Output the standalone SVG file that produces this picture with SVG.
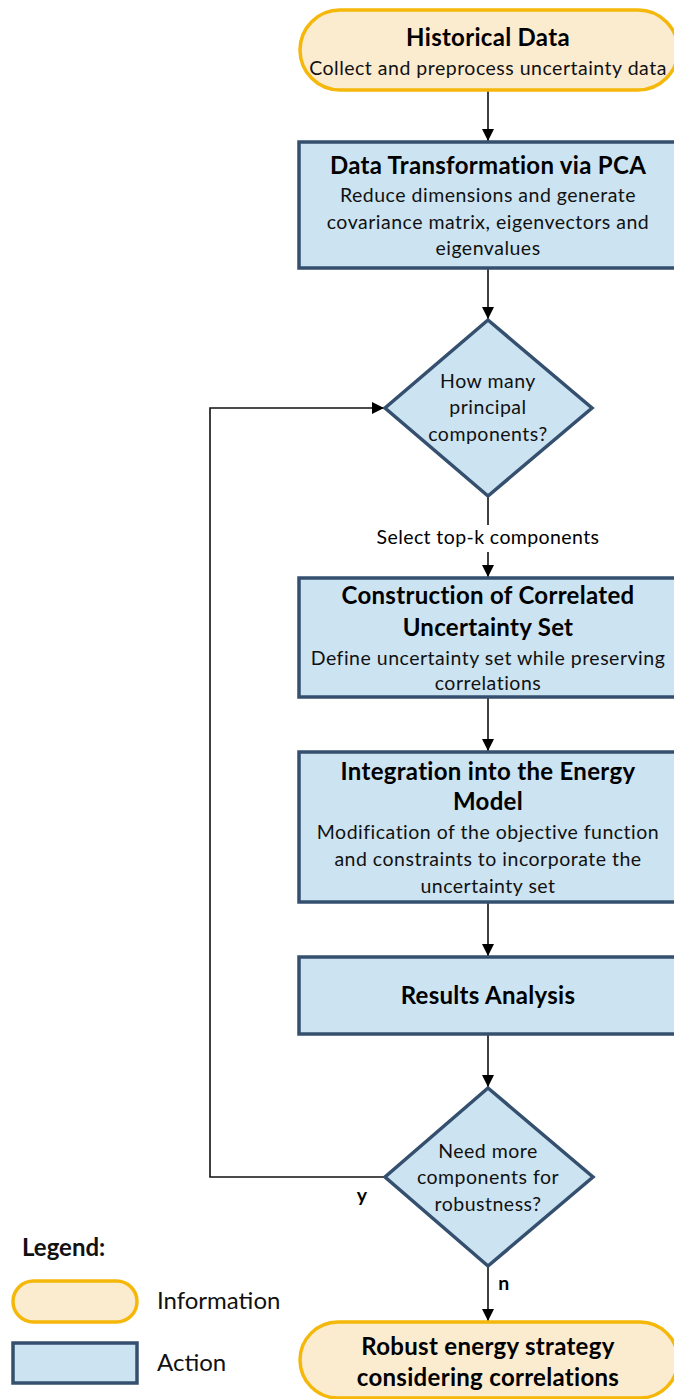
<svg xmlns="http://www.w3.org/2000/svg" width="674" height="1399" viewBox="0 0 674 1399">
<defs>
<marker id="arr" markerWidth="12" markerHeight="12" refX="12" refY="6" orient="auto" markerUnits="userSpaceOnUse">
<path d="M0,0 L12,6 L0,12 Z" fill="#000"/>
</marker>
<style>
.info{fill:#FBEBCF;stroke:#F5B80A;stroke-width:3.5}
.act{fill:#CCE3F1;stroke:#35506F;stroke-width:3.5}
.t{font-family:Lato,"Liberation Sans",sans-serif;font-weight:bold;font-size:24px;letter-spacing:0.3px;fill:#000;text-anchor:middle}
.s{font-family:Lato,"Liberation Sans",sans-serif;font-size:19.5px;letter-spacing:0.5px;fill:#111;text-anchor:middle}
.c{fill:none;stroke:#111;stroke-width:1.6}
.lb{font-family:Lato,"Liberation Sans",sans-serif;font-size:19.5px;letter-spacing:0.4px;fill:#000;text-anchor:middle}
.lg{font-family:Lato,"Liberation Sans",sans-serif;font-size:24px;fill:#111}
</style>
</defs>
<rect width="674" height="1399" fill="#fff"/>

<g id="connectors">
<line class="c" x1="488" y1="90" x2="488" y2="141" marker-end="url(#arr)"/>
<line class="c" x1="488" y1="268" x2="488" y2="319" marker-end="url(#arr)"/>
<line class="c" x1="488" y1="497" x2="488" y2="525"/>
<line class="c" x1="488" y1="552" x2="488" y2="577" marker-end="url(#arr)"/>
<line class="c" x1="488" y1="697" x2="488" y2="751" marker-end="url(#arr)"/>
<line class="c" x1="488" y1="902" x2="488" y2="956" marker-end="url(#arr)"/>
<line class="c" x1="488" y1="1034" x2="488" y2="1087" marker-end="url(#arr)"/>
<line class="c" x1="488" y1="1267" x2="488" y2="1321" marker-end="url(#arr)"/>
<polyline class="c" points="385,1177 210,1177 210,408 384,408" marker-end="url(#arr)"/>
<text class="lb" x="488" y="544">Select top-k components</text>
<text class="lb" x="362" y="1202" font-weight="bold" font-size="19">y</text>
<text class="lb" x="504" y="1290" font-weight="bold" font-size="19">n</text>
</g>

<g id="historical">
<rect class="info" x="300" y="10" width="378" height="80" rx="40"/>
<text class="t" x="488" y="46">Historical Data</text>
<text class="s" x="488" y="75">Collect and preprocess uncertainty data</text>
</g>

<g id="pca">
<rect class="act" x="299" y="142" width="378" height="126"/>
<text class="t" x="488" y="174">Data Transformation via PCA</text>
<text class="s" x="488" y="202">Reduce dimensions and generate</text>
<text class="s" x="488" y="229">covariance matrix, eigenvectors and</text>
<text class="s" x="488" y="255">eigenvalues</text>
</g>

<g id="decision1">
<polygon class="act" points="488,320 592,408 488,496 385,408"/>
<text class="s" x="488" y="388">How many</text>
<text class="s" x="488" y="414">principal</text>
<text class="s" x="488" y="441">components?</text>
</g>

<g id="construction">
<rect class="act" x="299" y="578" width="378" height="119"/>
<text class="t" x="488" y="604">Construction of Correlated</text>
<text class="t" x="488" y="636">Uncertainty Set</text>
<text class="s" x="488" y="665">Define uncertainty set while preserving</text>
<text class="s" x="488" y="690">correlations</text>
</g>

<g id="integration">
<rect class="act" x="299" y="752" width="378" height="150"/>
<text class="t" x="488" y="780">Integration into the Energy</text>
<text class="t" x="488" y="810">Model</text>
<text class="s" x="488" y="839">Modification of the objective function</text>
<text class="s" x="488" y="866">and constraints to incorporate the</text>
<text class="s" x="488" y="893">uncertainty set</text>
</g>

<g id="results">
<rect class="act" x="299" y="957" width="378" height="77"/>
<text class="t" x="488" y="1004">Results Analysis</text>
</g>

<g id="decision2">
<polygon class="act" points="488,1088 593,1177 488,1266 385,1177"/>
<text class="s" x="488" y="1158">Need more</text>
<text class="s" x="488" y="1184">components for</text>
<text class="s" x="488" y="1211">robustness?</text>
</g>

<g id="final">
<rect class="info" x="300" y="1322" width="378" height="76" rx="38"/>
<text class="t" x="488" y="1355">Robust energy strategy</text>
<text class="t" x="488" y="1386">considering correlations</text>
</g>

<g id="legend">
<text class="lg" x="22" y="1256" font-weight="bold" font-size="23">Legend:</text>
<rect class="info" x="13" y="1281" width="124" height="41" rx="20.5"/>
<text class="lg" x="157" y="1309">Information</text>
<rect class="act" x="13" y="1343" width="124" height="40"/>
<text class="lg" x="157" y="1371">Action</text>
</g>
</svg>
